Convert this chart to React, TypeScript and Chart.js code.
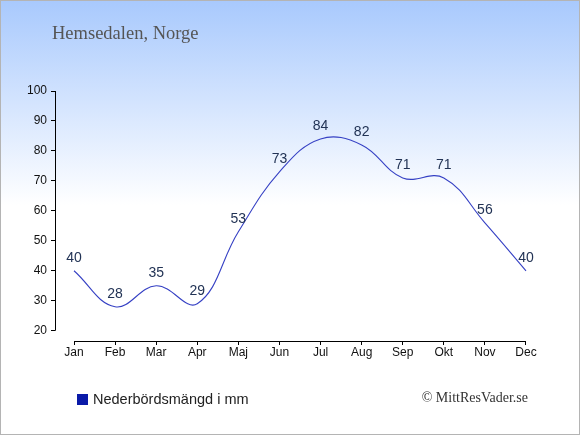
import { useRef, useEffect } from 'react';
import { Chart, registerables } from 'chart.js';

Chart.register(...registerables);

const months = ['Jan', 'Feb', 'Mar', 'Apr', 'Maj', 'Jun', 'Jul', 'Aug', 'Sep', 'Okt', 'Nov', 'Dec'];
const rainfall = [40, 28, 35, 29, 53, 73, 84, 82, 71, 71, 56, 40];
const yTicks = [20, 30, 40, 50, 60, 70, 80, 90, 100];

const title = 'Hemsedalen, Norge';
const legendLabel = 'Nederbördsmängd i mm';
const credit = '© MittResVader.se';

const SANS = 'Arial, "Liberation Sans", sans-serif';
const SERIF = '"Liberation Serif", "Times New Roman", serif';

// background, frame, axis lines, value labels, legend and credit
const decorations = {
    id: 'decorations',
    beforeDraw(chart: any) {
        const { ctx, width, height } = chart;
        ctx.save();
        const g = ctx.createLinearGradient(0, 0, 0, 205);
        g.addColorStop(0, '#a8c9fd');
        g.addColorStop(1, '#ffffff');
        ctx.fillStyle = '#ffffff';
        ctx.fillRect(0, 0, width, height);
        ctx.fillStyle = g;
        ctx.fillRect(0, 0, width, 205);
        ctx.strokeStyle = '#b4b4b4';
        ctx.lineWidth = 1;
        ctx.strokeRect(0.5, 0.5, width - 1, height - 1);

        ctx.fillStyle = '#555555';
        ctx.font = `18.5px ${SERIF}`;
        ctx.textBaseline = 'alphabetic';
        ctx.textAlign = 'left';
        ctx.fillText(title, 52, 38.5);
        ctx.restore();
    },
    afterDraw(chart: any) {
        const { ctx, chartArea } = chart;
        const x = chart.scales.x;
        const y = chart.scales.y;
        ctx.save();
        ctx.strokeStyle = '#000000';
        ctx.lineWidth = 1;
        ctx.beginPath();
        const ax = Math.round(chartArea.left) + 0.5;
        ctx.moveTo(ax, y.getPixelForValue(100));
        ctx.lineTo(ax, y.getPixelForValue(20));
        const ay = Math.round(chartArea.bottom) + 0.5;
        ctx.moveTo(x.getPixelForValue(0), ay);
        ctx.lineTo(x.getPixelForValue(11), ay);
        ctx.stroke();

        ctx.fillStyle = '#223355';
        ctx.font = `14px ${SANS}`;
        ctx.textAlign = 'center';
        ctx.textBaseline = 'alphabetic';
        rainfall.forEach((v, i) => {
            ctx.fillText(String(v), x.getPixelForValue(i), y.getPixelForValue(v) - 8.5);
        });

        ctx.fillStyle = '#0a1aa8';
        ctx.fillRect(77, 394, 11, 11);
        ctx.fillStyle = '#222222';
        ctx.font = `14.5px ${SANS}`;
        ctx.textAlign = 'left';
        ctx.textBaseline = 'middle';
        ctx.fillText(legendLabel, 93, 399.5);

        ctx.fillStyle = '#333333';
        ctx.font = `14px ${SERIF}`;
        ctx.textAlign = 'right';
        ctx.fillText(credit, 528, 398);
        ctx.restore();
    },
};

const App = () => {
    const canvasRef = useRef<HTMLCanvasElement | null>(null);

    useEffect(() => {
        if (!canvasRef.current) return;
        const chart = new Chart(canvasRef.current, {
            type: 'line',
            data: {
                datasets: [
                    {
                        label: legendLabel,
                        data: rainfall.map((v, i) => ({ x: i, y: v })),
                        borderColor: '#3540c4',
                        borderWidth: 1.1,
                        pointRadius: 0,
                        tension: 0.4,
                        fill: false,
                        clip: false,
                    },
                ],
            },
            options: {
                animation: false,
                responsive: false,
                devicePixelRatio: 1,
                layout: { padding: { top: 91, right: 34, bottom: 0, left: 0 } },
                plugins: {
                    legend: { display: false },
                    title: { display: false },
                    tooltip: { enabled: false },
                },
                scales: {
                    x: {
                        type: 'linear',
                        min: -19 / 41.09,
                        max: 11 + 20 / 41.09,
                        afterBuildTicks: (s: any) => {
                            s.ticks = months.map((_, i) => ({ value: i }));
                        },
                        afterFit: (s: any) => {
                            s.height = 94;
                        },
                        border: { display: false },
                        grid: {
                            drawOnChartArea: false,
                            drawTicks: true,
                            tickLength: 4,
                            color: '#000000',
                        },
                        ticks: {
                            color: '#111111',
                            font: { family: SANS, size: 12 },
                            padding: 0,
                            maxRotation: 0,
                            autoSkip: false,
                            callback: (v: any) => months[v],
                        },
                    },
                    y: {
                        type: 'linear',
                        min: 20 - 10.3 / 3,
                        max: 100,
                        afterBuildTicks: (s: any) => {
                            s.ticks = yTicks.map((v) => ({ value: v }));
                        },
                        afterFit: (s: any) => {
                            s.width = 55;
                        },
                        border: { display: false },
                        grid: {
                            drawOnChartArea: false,
                            drawTicks: true,
                            tickLength: 4,
                            color: '#000000',
                        },
                        ticks: {
                            color: '#111111',
                            font: { family: SANS, size: 12 },
                            padding: 4,
                        },
                    },
                },
            },
            plugins: [decorations],
        });
        return () => {
            chart.destroy();
        };
    }, []);

    return (
        <div style={{ position: 'absolute', left: 0, top: 0, width: 580, height: 435 }}>
            <canvas ref={canvasRef} width={580} height={435} />
        </div>
    );
};

export default App;
